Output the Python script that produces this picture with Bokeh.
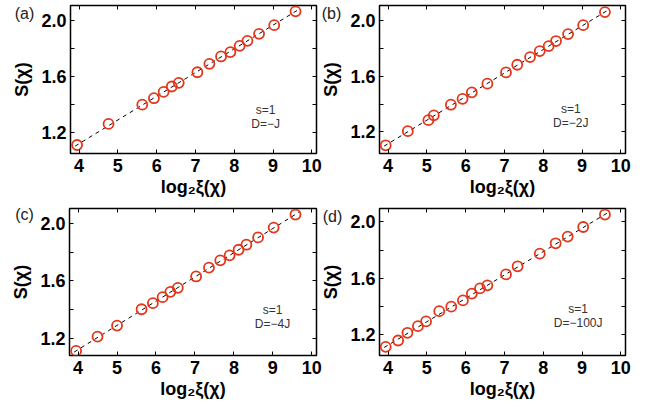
from bokeh.plotting import figure
from bokeh.models import Range1d, FixedTicker, LinearAxis, Label, PrintfTickFormatter
from bokeh.layouts import column, row
from bokeh.embed import file_html
from bokeh.resources import INLINE

# ---------------- data ----------------
x_ticks = [4, 5, 6, 7, 8, 9, 10]
y_ticks = [1.2, 1.6, 2.0]
y_minor = [1.4, 1.8]

xi_a = [3.95, 4.76, 5.63, 5.93, 6.18, 6.39, 6.57, 7.05, 7.36, 7.66, 7.90, 8.14, 8.34, 8.64, 9.03, 9.58]
S_a = [1.108, 1.259, 1.397, 1.443, 1.488, 1.527, 1.553, 1.629, 1.689, 1.742, 1.773, 1.818, 1.854, 1.904, 1.966, 2.065]

xi_b = [3.94, 4.51, 5.04, 5.18, 5.62, 5.92, 6.16, 6.56, 7.04, 7.33, 7.66, 7.91, 8.14, 8.33, 8.64, 9.03, 9.59]
S_b = [1.104, 1.205, 1.284, 1.319, 1.395, 1.437, 1.484, 1.546, 1.627, 1.682, 1.737, 1.780, 1.816, 1.852, 1.902, 1.966, 2.060]

xi_c = [3.95, 4.50, 5.00, 5.63, 5.92, 6.17, 6.37, 6.56, 7.03, 7.36, 7.65, 7.89, 8.12, 8.32, 8.62, 9.02, 9.58]
S_c = [1.112, 1.211, 1.288, 1.402, 1.444, 1.486, 1.523, 1.551, 1.630, 1.691, 1.742, 1.777, 1.816, 1.851, 1.902, 1.970, 2.061]

xi_d = [3.94, 4.26, 4.50, 4.77, 4.98, 5.32, 5.63, 5.93, 6.16, 6.37, 6.56, 7.04, 7.34, 7.91, 8.32, 8.63, 9.03, 9.59]
S_d = [1.110, 1.155, 1.210, 1.257, 1.291, 1.364, 1.396, 1.441, 1.489, 1.526, 1.548, 1.626, 1.684, 1.774, 1.848, 1.896, 1.964, 2.053]

fit_x = [3.90, 9.70]
fit_S_a = [1.100, 2.085]
fit_S_b = [1.098, 2.079]
fit_S_c = [1.104, 2.082]
fit_S_d = [1.105, 2.072]

panel_tags = ["(a)", "(b)", "(c)", "(d)"]
d_labels = ["D=\u2212J", "D=\u22122J", "D=\u22124J", "D=\u2212100J"]
s_label = "s=1"
x_label = "log\u2082\u03be(\u03c7)"
y_label = "S(\u03c7)"

FONT = "Liberation Sans"
RED = "#E3361A"


def make_panel(xs, ys, fx, fy, yr, tag, dlab, tx, ty1, ty2,
               width, height, br, bt, bb, tag_x, tag_y, margin):
    p = figure(width=width, height=height,
               x_range=Range1d(3.78, 10.12), y_range=Range1d(*yr),
               output_backend="svg", toolbar_location=None,
               min_border_left=0, min_border_right=br,
               min_border_top=bt, min_border_bottom=bb,
               margin=margin)
    p.grid.visible = False
    p.outline_line_color = "black"
    p.outline_line_width = 1.5
    p.background_fill_color = "white"
    p.border_fill_color = None

    p.xaxis.ticker = FixedTicker(ticks=x_ticks)
    p.yaxis.ticker = FixedTicker(ticks=y_ticks, minor_ticks=y_minor)
    p.yaxis.formatter = PrintfTickFormatter(format="%.1f")
    for ax in (p.xaxis[0], p.yaxis[0]):
        ax.axis_line_color = None
        ax.major_tick_in = 4
        ax.major_tick_out = 0
        ax.minor_tick_in = 4
        ax.minor_tick_out = 0
        ax.major_tick_line_color = "black"
        ax.minor_tick_line_color = "black"
        ax.major_label_text_font = FONT
        ax.major_label_text_font_style = "bold"
        ax.major_label_text_font_size = "18px"
        ax.major_label_text_color = "black"
        ax.axis_label_text_font = FONT
        ax.axis_label_text_font_style = "bold"
        ax.axis_label_text_font_size = "18px"
        ax.axis_label_text_color = "black"
    p.xaxis.minor_tick_line_color = None
    p.xaxis.axis_label = x_label
    p.yaxis.axis_label = y_label
    p.xaxis.major_label_standoff = 5
    p.xaxis.axis_label_standoff = 2
    p.yaxis.major_label_standoff = 4
    p.yaxis.axis_label_standoff = 6

    top = LinearAxis(ticker=FixedTicker(ticks=x_ticks))
    right = LinearAxis(ticker=FixedTicker(ticks=y_ticks, minor_ticks=y_minor))
    for ax in (top, right):
        ax.axis_line_color = None
        ax.major_tick_in = 4
        ax.major_tick_out = 0
        ax.minor_tick_in = 4
        ax.minor_tick_out = 0
        ax.major_label_text_font_size = "0px"
        ax.major_label_text_color = None
        ax.major_label_standoff = 0
    top.minor_tick_line_color = None
    p.add_layout(top, "above")
    p.add_layout(right, "right")

    p.line(fx, fy, line_color="black", line_width=1, line_dash="4 4")
    p.scatter(xs, ys, marker="circle", size=10, fill_color=None,
              line_color=RED, line_width=1.8)

    p.add_layout(Label(x=tx, y=ty1, text=s_label, text_font=FONT,
                       text_font_size="12px", text_color="#333333",
                       text_align="center", text_baseline="middle"))
    p.add_layout(Label(x=tx, y=ty2, text=dlab, text_font=FONT,
                       text_font_size="12px", text_color="#333333",
                       text_align="center", text_baseline="middle"))

    # panel tag, drawn from the outermost left side panel
    p.add_layout(Label(x=tag_x, y=tag_y, x_units="screen", y_units="screen",
                       text=tag, text_font=FONT, text_font_size="16px",
                       text_color="#222222", text_align="center",
                       text_baseline="middle"), "left")
    return p


# left border (axis + tag panel) is about 80 px; negative margins put frames in place
pa = make_panel(xi_a, S_a, fit_x, fit_S_a, (1.047, 2.107), panel_tags[0], d_labels[0],
                8.81, 1.362, 1.261, 333, 204, 6, 5, 51, 35, 140.5, (0, 0, 0, -11))
pb = make_panel(xi_b, S_b, fit_x, fit_S_b, (1.045, 2.107), panel_tags[1], d_labels[1],
                8.71, 1.362, 1.261, 357, 204, 30, 5, 51, 33, 140.5, (0, 0, 0, -24))
pc = make_panel(xi_c, S_c, fit_x, fit_S_c, (1.080, 2.103), panel_tags[2], d_labels[2],
                8.99, 1.400, 1.302, 333, 203, 6, 4, 52, 35, 141, (0, 0, 0, -11))
pd = make_panel(xi_d, S_d, fit_x, fit_S_d, (1.048, 2.096), panel_tags[3], d_labels[3],
                8.90, 1.381, 1.281, 357, 203, 30, 4, 52, 34, 139.5, (0, 0, 0, -24))

layout = column(row(pa, pb), row(pc, pd))
open("out.html", "w").write(file_html(layout, INLINE))
